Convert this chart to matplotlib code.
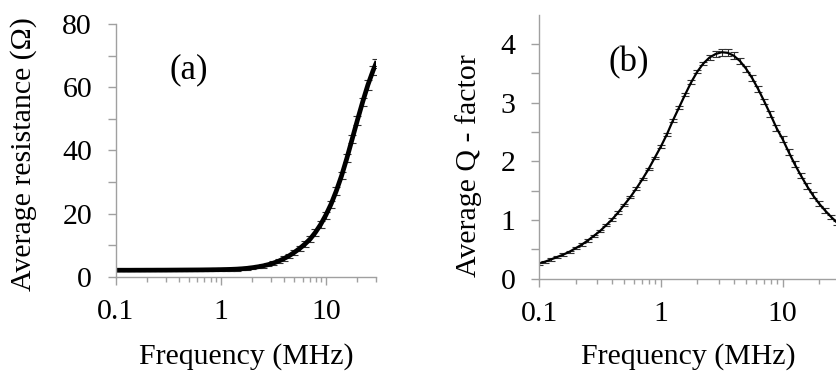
import numpy as np
import matplotlib
matplotlib.use('Agg')
import matplotlib.pyplot as plt
from matplotlib.ticker import FixedLocator, NullFormatter

# frequency sweep (MHz), 20 points per decade
freq = [0.100, 0.112, 0.126, 0.141, 0.158, 0.178, 0.200, 0.224, 0.251, 0.282,
        0.316, 0.355, 0.398, 0.447, 0.501, 0.562, 0.631, 0.708, 0.794, 0.891,
        1.000, 1.122, 1.259, 1.413, 1.585, 1.778, 1.995, 2.239, 2.512, 2.818,
        3.162, 3.548, 3.981, 4.467, 5.012, 5.623, 6.310, 7.079, 7.943, 8.913,
        10.00, 11.22, 12.59, 14.13, 15.85, 17.78, 19.95, 22.39, 25.12, 28.18,
        30.00]

# (a) average resistance (ohm)
resistance = [2.05, 2.05, 2.05, 2.05, 2.06, 2.06, 2.07, 2.07, 2.08, 2.08,
              2.09, 2.10, 2.11, 2.12, 2.13, 2.14, 2.15, 2.17, 2.19, 2.21,
              2.24, 2.28, 2.33, 2.40, 2.50, 2.65, 2.85, 3.10, 3.40, 3.80,
              4.30, 4.90, 5.70, 6.60, 7.70, 8.90, 10.3, 11.9, 14.0, 16.5,
              19.5, 23.0, 27.2, 32.0, 37.5, 43.5, 49.5, 55.3, 60.7, 65.3,
              67.5]
res_err = [0.4] * 20 + [0.5] * 10 + [0.6, 0.6, 0.7, 0.7, 0.8, 0.8, 0.9, 0.9, 1.0, 1.0,
                                     1.1, 1.1, 1.2, 1.2, 1.3, 1.3, 1.4, 1.4, 1.5, 1.5, 1.5]

# (b) average Q-factor
q_factor = [0.26, 0.29, 0.33, 0.37, 0.41, 0.46, 0.52, 0.58, 0.65, 0.73,
            0.81, 0.91, 1.01, 1.13, 1.26, 1.39, 1.54, 1.70, 1.87, 2.06,
            2.25, 2.46, 2.70, 2.92, 3.14, 3.35, 3.53, 3.67, 3.77, 3.83,
            3.86, 3.85, 3.80, 3.71, 3.58, 3.42, 3.23, 3.02, 2.80, 2.57,
            2.38, 2.16, 1.95, 1.76, 1.58, 1.42, 1.28, 1.16, 1.05, 0.95,
            0.90]
q_err = [0.02] * 20 + [0.03] * 8 + [0.04, 0.05, 0.06, 0.06, 0.06, 0.05, 0.05,
                                    0.05, 0.05, 0.05, 0.05, 0.05, 0.05, 0.05,
                                    0.05, 0.05, 0.05, 0.05, 0.04, 0.04, 0.04,
                                    0.04, 0.04]

plt.rcParams['font.family'] = ['Liberation Serif', 'DejaVu Serif']
plt.rcParams['font.size'] = 21.5

fig = plt.figure(figsize=(8.37, 3.71), dpi=100)
ax1 = fig.add_axes([0.1382, 0.2542, 0.3110, 0.6811])
ax2 = fig.add_axes([0.6440, 0.2488, 0.3604, 0.7116])

spine_col = '#a0a0a0'


def style_axes(ax):
    ax.set_xscale('log')
    for s in ['top', 'right']:
        ax.spines[s].set_visible(False)
    for s in ['left', 'bottom']:
        ax.spines[s].set_color(spine_col)
        ax.spines[s].set_linewidth(1.0)
    ax.tick_params(axis='both', which='both', direction='out', color=spine_col,
                   width=1.0, labelsize=21.5)
    ax.tick_params(axis='y', which='both', length=6, pad=11)
    ax.tick_params(axis='x', which='major', length=6, pad=10)
    ax.tick_params(axis='x', which='minor', length=3.5)
    ax.set_xticks([0.1, 1, 10])
    ax.set_xticklabels(['0.1', '1', '10'])
    minors = [m * d for d in [0.1, 1, 10] for m in range(2, 10) if m * d <= 30]
    ax.xaxis.set_minor_locator(FixedLocator(minors))
    ax.xaxis.set_minor_formatter(NullFormatter())


# panel (a)
style_axes(ax1)
ax1.errorbar(freq, resistance, yerr=res_err, color='black', lw=3.4,
             ecolor='#333333', elinewidth=0.8, capsize=3, capthick=0.8)
ax1.set_xlim(0.1, 30)
ax1.set_ylim(0, 80)
ax1.set_yticks([0, 20, 40, 60, 80])
ax1.yaxis.set_minor_locator(FixedLocator([10, 30, 50, 70]))
ax1.set_xlabel('Frequency (MHz)')
ax1.set_ylabel('Average resistance (Ω)')
ax1.xaxis.set_label_coords(0.5, -0.262)
ax1.yaxis.set_label_coords(-0.302, 0.486)
ax1.text(0.282, 0.818, '(a)', transform=ax1.transAxes, fontsize=25,
         ha='center', va='center')

# panel (b)
style_axes(ax2)
ax2.errorbar(freq, q_factor, yerr=q_err, color='black', lw=1.6,
             ecolor='#333333', elinewidth=0.8, capsize=3, capthick=0.8)
ax2.set_xlim(0.1, 30)
ax2.set_ylim(0, 4.5)
ax2.set_yticks([0, 1, 2, 3, 4])
ax2.yaxis.set_minor_locator(FixedLocator([0.5, 1.5, 2.5, 3.5]))
ax2.set_xlabel('Frequency (MHz)')
ax2.set_ylabel('Average Q - factor')
ax2.xaxis.set_label_coords(0.495, -0.244)
ax2.yaxis.set_label_coords(-0.189, 0.427)
ax2.text(0.298, 0.817, '(b)', transform=ax2.transAxes, fontsize=25,
         ha='center', va='center')

fig.savefig('out.png', dpi=100)
